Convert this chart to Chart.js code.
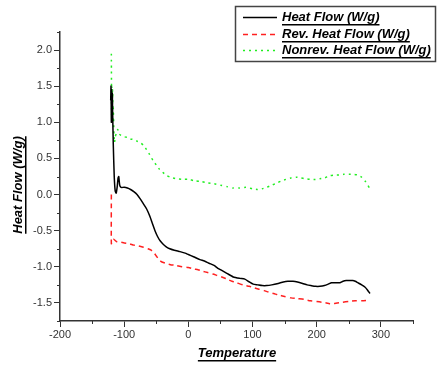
<!DOCTYPE html>
<html>
<head>
<meta charset="utf-8">
<script src="https://cdn.jsdelivr.net/npm/chart.js@4.4.1/dist/chart.umd.min.js"></script>
<style>
  html, body { margin: 0; padding: 0; background: #fff; }
  #wrap { width: 437px; height: 367px; position: relative; }
</style>
</head>
<body>
<div id="wrap"><canvas id="dscChart"></canvas></div>
<script>
// Heat Flow (W/g) - black solid
const heatTemp = [-121, -120.5, -120, -119.5, -119, -118.5, -118, -117, -115.5, -114, -112.5, -111, -109.5, -108.5, -107, -105, -100, -95, -90, -85, -80, -75, -70, -65, -60, -56, -52, -48, -44, -40, -35, -29, -22, -13, -5, 0, 8, 18, 25, 32, 40, 46, 52, 60, 70, 80, 88, 95, 101, 108, 115, 122, 130, 140, 148, 155, 163, 170, 178, 185, 191, 198, 205, 212, 218, 223, 228, 236, 241, 246, 251, 256, 260, 264, 270, 275, 279, 283];
const heatFlow = [1.3, 1.5, 1.0, 1.45, 1.05, 1.4, 1.15, 0.7, 0.25, 0.05, 0.02, 0.1, 0.23, 0.25, 0.13, 0.1, 0.1, 0.09, 0.07, 0.04, 0.0, -0.06, -0.13, -0.2, -0.3, -0.4, -0.5, -0.58, -0.64, -0.68, -0.72, -0.75, -0.77, -0.79, -0.81, -0.83, -0.86, -0.9, -0.92, -0.95, -0.98, -1.02, -1.05, -1.09, -1.14, -1.16, -1.17, -1.21, -1.24, -1.25, -1.26, -1.26, -1.25, -1.23, -1.21, -1.2, -1.2, -1.21, -1.23, -1.25, -1.26, -1.27, -1.27, -1.26, -1.24, -1.22, -1.22, -1.22, -1.2, -1.19, -1.19, -1.19, -1.2, -1.22, -1.25, -1.28, -1.32, -1.37];

// Rev. Heat Flow (W/g) - red dashed
const revTemp = [-120, -120, -118.5, -116, -112, -105, -100, -92, -85, -78, -70, -63, -58, -54, -50, -46, -42, -36, -28, -20, -10, 0, 8, 15, 22, 30, 38, 45, 52, 60, 68, 75, 85, 95, 102, 110, 118, 125, 133, 140, 150, 160, 170, 180, 190, 200, 208, 215, 220, 225, 232, 240, 250, 260, 270, 283];
const revFlow = [0.0, -0.68, -0.63, -0.62, -0.65, -0.66, -0.67, -0.68, -0.7, -0.71, -0.73, -0.75, -0.77, -0.8, -0.85, -0.9, -0.93, -0.95, -0.97, -0.98, -1.0, -1.01, -1.03, -1.04, -1.06, -1.08, -1.1, -1.12, -1.14, -1.17, -1.2, -1.22, -1.25, -1.27, -1.29, -1.31, -1.33, -1.35, -1.37, -1.39, -1.41, -1.43, -1.44, -1.45, -1.47, -1.48, -1.49, -1.5, -1.51, -1.51, -1.5, -1.49, -1.48, -1.47, -1.47, -1.46];

// Nonrev. Heat Flow (W/g) - green dotted
const nonrevTemp = [-120, -119.5, -119, -118.5, -118, -117.5, -117, -116, -115, -114, -112, -110, -108, -105, -100, -95, -90, -85, -80, -75, -70, -65, -60, -55, -50, -45, -40, -35, -28, -20, -10, 0, 10, 20, 30, 40, 50, 60, 70, 80, 90, 100, 108, 115, 122, 130, 138, 145, 152, 160, 168, 175, 182, 190, 198, 205, 212, 220, 228, 235, 242, 250, 258, 264, 270, 276, 283];
const nonrevFlow = [1.95, 1.1, 1.5, 1.05, 1.45, 1.0, 1.2, 0.85, 0.72, 0.8, 0.85, 0.9, 0.84, 0.82, 0.8, 0.79, 0.77, 0.76, 0.74, 0.72, 0.68, 0.62, 0.55, 0.47, 0.41, 0.35, 0.31, 0.27, 0.24, 0.22, 0.21, 0.21, 0.19, 0.18, 0.16, 0.15, 0.13, 0.11, 0.09, 0.09, 0.1, 0.08, 0.07, 0.08, 0.1, 0.13, 0.16, 0.19, 0.21, 0.23, 0.24, 0.23, 0.22, 0.21, 0.21, 0.22, 0.23, 0.26, 0.27, 0.27, 0.28, 0.28, 0.28, 0.27, 0.24, 0.18, 0.08];

// tick labels
const xTicks = [-200, -100, 0, 100, 200, 300];
const yTicks = [-1.5, -1.0, -0.5, 0.0, 0.5, 1.0, 1.5, 2.0];
const xMinor = [-150, -50, 50, 150, 250, 350];
const yMinor = [-1.75, -1.25, -0.75, -0.25, 0.25, 0.75, 1.25, 1.75, 2.25];

const seriesNames = ["Heat Flow (W/g)", "Rev. Heat Flow (W/g)", "Nonrev. Heat Flow (W/g)"];

const zip = (xs, ys) => xs.map((x, i) => ({ x: x, y: ys[i] }));

const ink = "#333";
const labelFont = "11px 'Liberation Sans', Arial, sans-serif";
const titleFont = "italic bold 13px 'Liberation Sans', Arial, sans-serif";

function underlinedText(ctx, text, x, y) {
  ctx.fillText(text, x, y);
  const w = ctx.measureText(text).width;
  let x0 = x;
  if (ctx.textAlign === "center") x0 = x - w / 2;
  ctx.fillRect(x0, y + 7, w, 1.5);
}

// extras: minor ticks, axis titles, legend box
const extras = {
  id: "extras",
  afterDraw(chart) {
    const ctx = chart.ctx;
    const xs = chart.scales.x, ys = chart.scales.y;
    ctx.save();
    ctx.strokeStyle = ink;
    ctx.lineWidth = 1;
    ctx.beginPath();
    xMinor.forEach(v => {
      const px = Math.round(xs.getPixelForValue(v)) + 0.5;
      ctx.moveTo(px, ys.bottom);
      ctx.lineTo(px, ys.bottom + 3);
    });
    yMinor.forEach(v => {
      const py = Math.round(ys.getPixelForValue(v)) + 0.5;
      ctx.moveTo(xs.left - 3, py);
      ctx.lineTo(xs.left, py);
    });
    ctx.stroke();

    // axis titles
    ctx.fillStyle = "#000";
    ctx.font = titleFont;
    ctx.textAlign = "center";
    ctx.textBaseline = "middle";
    underlinedText(ctx, "Temperature", 237, 353);
    ctx.translate(19, 185);
    ctx.rotate(-Math.PI / 2);
    underlinedText(ctx, "Heat Flow (W/g)", 0, -1);
    ctx.restore();

    // legend
    ctx.save();
    ctx.fillStyle = "#fff";
    ctx.fillRect(235, 6, 200, 56);
    ctx.strokeStyle = "#444";
    ctx.lineWidth = 1.5;
    ctx.strokeRect(235.5, 6.5, 200, 55);
    const rows = [17, 34, 50];
    chart.data.datasets.forEach((ds, i) => {
      ctx.strokeStyle = ds.borderColor;
      ctx.lineWidth = ds.borderWidth;
      ctx.setLineDash(ds.borderDash || []);
      ctx.beginPath();
      ctx.moveTo(243, rows[i] + 0.5);
      ctx.lineTo(277, rows[i] + 0.5);
      ctx.stroke();
      ctx.setLineDash([]);
      ctx.fillStyle = "#000";
      ctx.font = titleFont;
      ctx.textAlign = "left";
      ctx.textBaseline = "middle";
      underlinedText(ctx, ds.label, 282, rows[i]);
    });
    ctx.restore();
  }
};

new Chart(document.getElementById("dscChart"), {
  type: "scatter",
  data: {
    datasets: [
      {
        label: seriesNames[0],
        data: zip(heatTemp, heatFlow),
        showLine: true,
        borderColor: "#000",
        borderWidth: 1.5,
        pointRadius: 0,
        tension: 0.2
      },
      {
        label: seriesNames[1],
        data: zip(revTemp, revFlow),
        showLine: true,
        borderColor: "#ff2020",
        borderWidth: 1.5,
        borderDash: [5, 4],
        pointRadius: 0,
        tension: 0.2
      },
      {
        label: seriesNames[2],
        data: zip(nonrevTemp, nonrevFlow),
        showLine: true,
        borderColor: "#22ee22",
        borderWidth: 1.5,
        borderDash: [2, 4],
        pointRadius: 0,
        tension: 0.2
      }
    ]
  },
  options: {
    responsive: true,
    maintainAspectRatio: false,
    animation: false,
    layout: { padding: { top: 32, right: 24, left: 0, bottom: 0 } },
    plugins: {
      legend: { display: false },
      tooltip: { enabled: false }
    },
    scales: {
      x: {
        type: "linear",
        min: -200,
        max: 350,
        afterBuildTicks: s => { s.ticks = xTicks.map(v => ({ value: v })); },
        afterFit: s => { s.height = 46; },
        grid: { drawOnChartArea: false, tickLength: 6, color: ink, tickColor: ink },
        border: { color: ink, width: 1.5 },
        ticks: { color: ink, font: { size: 11, family: "'Liberation Sans', Arial, sans-serif" }, padding: 1, maxRotation: 0,
                 callback: v => String(v) }
      },
      y: {
        type: "linear",
        min: -1.75,
        max: 2.25,
        afterBuildTicks: s => { s.ticks = yTicks.map(v => ({ value: v })); },
        afterFit: s => { s.width = 60; },
        grid: { drawOnChartArea: false, tickLength: 6, color: ink, tickColor: ink },
        border: { color: ink, width: 1.5 },
        ticks: { color: ink, font: { size: 11, family: "'Liberation Sans', Arial, sans-serif" }, padding: 2,
                 callback: v => v.toFixed(1) }
      }
    }
  },
  plugins: [extras]
});
</script>
</body>
</html>
